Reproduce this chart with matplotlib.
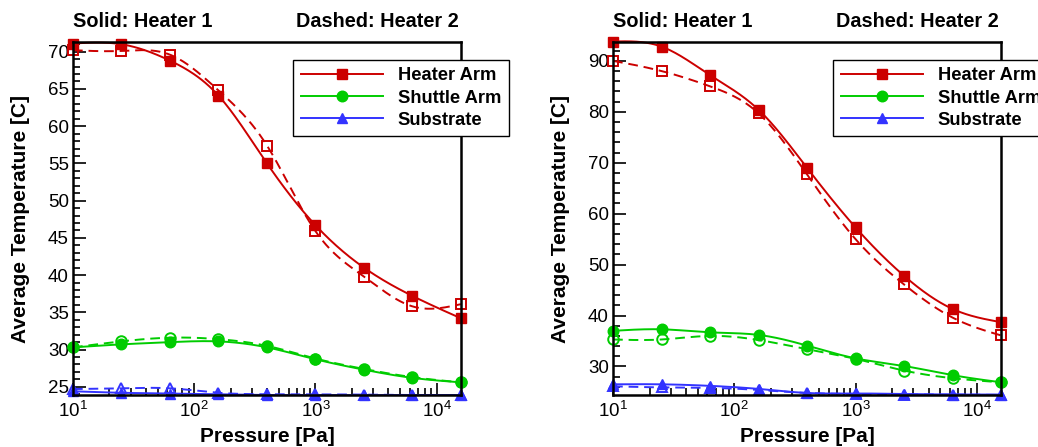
import numpy as np
import matplotlib
matplotlib.use("Agg")
import matplotlib.pyplot as plt
from matplotlib.ticker import MultipleLocator, LogLocator, LogFormatterSciNotation

plt.rcParams['font.family'] = ['Liberation Sans', 'DejaVu Sans']
plt.rcParams['mathtext.fontset'] = 'custom'
plt.rcParams['mathtext.rm'] = 'Liberation Sans'
plt.rcParams['mathtext.it'] = 'Liberation Sans'

# pressure points [Pa]
pressure = [10, 25.1, 63.1, 158.5, 398, 1000, 2512, 6310, 15849]

# left panel
h1_heater_L = [71.1, 71.0, 68.8, 64.1, 55.0, 46.7, 41.0, 37.2, 34.2]
h2_heater_L = [70.2, 70.1, 69.6, 64.8, 57.4, 45.9, 39.8, 35.8, 36.1]
h1_shuttle_L = [30.3, 30.7, 31.0, 31.1, 30.3, 28.7, 27.3, 26.2, 25.6]
h2_shuttle_L = [30.3, 31.1, 31.6, 31.4, 30.5, 28.8, 27.4, 26.3, 25.6]
h1_sub_L = [24.4, 24.2, 24.1, 24.0, 23.9, 23.9, 23.9, 23.9, 23.9]
h2_sub_L = [24.7, 24.8, 24.8, 24.2, 24.0, 24.0, 23.95, 23.9, 23.9]

# right panel
h1_heater_R = [93.8, 92.8, 87.2, 80.4, 69.0, 57.3, 47.8, 41.3, 38.7]
h2_heater_R = [90.0, 88.0, 85.0, 79.7, 67.7, 55.0, 46.1, 39.6, 36.1]
h1_shuttle_R = [37.0, 37.3, 36.7, 36.2, 34.1, 31.6, 30.1, 28.3, 26.9]
h2_shuttle_R = [35.3, 35.3, 36.0, 35.2, 33.4, 31.5, 29.2, 27.7, 26.9]
h1_sub_R = [26.5, 26.5, 26.2, 25.6, 24.8, 24.7, 24.6, 24.5, 24.5]
h2_sub_R = [26.1, 25.9, 25.8, 25.4, 24.8, 24.6, 24.5, 24.5, 24.4]

RED = '#cc0000'
GREEN = '#00cc00'
BLUE = '#3333ff'


def spline(x, y, n=300):
    # natural cubic spline in log10(x), just for drawing a smooth line
    t = np.log10(x)
    y = np.asarray(y, float)
    k = len(t)
    h = np.diff(t)
    A = np.zeros((k, k))
    b = np.zeros(k)
    A[0, 0] = A[-1, -1] = 1
    for i in range(1, k - 1):
        A[i, i - 1] = h[i - 1]
        A[i, i] = 2 * (h[i - 1] + h[i])
        A[i, i + 1] = h[i]
        b[i] = 6 * ((y[i + 1] - y[i]) / h[i] - (y[i] - y[i - 1]) / h[i - 1])
    M = np.linalg.solve(A, b)
    tt = np.linspace(t[0], t[-1], n)
    idx = np.clip(np.searchsorted(t, tt) - 1, 0, k - 2)
    t0, t1 = t[idx], t[idx + 1]
    hh = t1 - t0
    a = (t1 - tt) / hh
    c = (tt - t0) / hh
    yy = (a * y[idx] + c * y[idx + 1]
          + ((a ** 3 - a) * M[idx] + (c ** 3 - c) * M[idx + 1]) * hh ** 2 / 6)
    return 10 ** tt, yy


def draw(ax, series, ylim, major, minor):
    for y1, y2, col, mk, ms, lab in series:
        xs, ys = spline(pressure, y1)
        ax.plot(xs, ys, color=col, lw=1.4, clip_on=False)
        ax.plot(pressure, y1, ls='none', marker=mk, ms=ms, color=col, clip_on=False)
        xs, ys = spline(pressure, y2)
        ax.plot(xs, ys, color=col, lw=1.4, ls=(0, (5, 3)), clip_on=False)
        ax.plot(pressure, y2, ls='none', marker=mk, ms=ms, mfc='none', mec=col,
                mew=1.4, clip_on=False)
        ax.plot([], [], color=col, lw=1.4, marker=mk, ms=ms, label=lab)
    ax.set_xscale('log')
    ax.set_xlim(10, 15849)
    ax.set_ylim(*ylim)
    ax.yaxis.set_major_locator(MultipleLocator(major))
    ax.yaxis.set_minor_locator(MultipleLocator(minor))
    ax.xaxis.set_major_locator(LogLocator(base=10))
    ax.xaxis.set_major_formatter(LogFormatterSciNotation())
    ax.xaxis.set_minor_locator(LogLocator(base=10, subs=np.arange(2, 10)))
    ax.tick_params(which='both', direction='in', top=False, right=False,
                   labelsize=13.5, width=1.2)
    ax.tick_params(axis='y', which='major', length=9, pad=3)
    ax.tick_params(axis='y', which='minor', length=5)
    ax.tick_params(axis='x', which='major', length=9, pad=4)
    ax.tick_params(axis='x', which='minor', length=5)
    for s in ax.spines.values():
        s.set_linewidth(1.8)
    ax.set_xlabel('Pressure [Pa]', fontsize=15, fontweight='bold')
    ax.set_ylabel('Average Temperature [C]', fontsize=15, fontweight='bold')
    ax.xaxis.set_label_coords(0.5, -0.09)
    ax.yaxis.set_label_coords(-0.11, 0.5)
    ax.text(0.0, 1.057, 'Solid: Heater 1', transform=ax.transAxes, fontsize=14.3,
            fontweight='bold', ha='left', va='center')
    ax.text(0.993, 1.057, 'Dashed: Heater 2', transform=ax.transAxes, fontsize=14.3,
            fontweight='bold', ha='right', va='center')
    leg = ax.legend(loc='upper left', bbox_to_anchor=(0.567, 0.95),
                    fancybox=False, framealpha=1, edgecolor='black',
                    handlelength=4.5, handletextpad=0.8, borderaxespad=0,
                    borderpad=0.42, labelspacing=0.28,
                    prop={'size': 13.2, 'weight': 'bold'})
    leg.get_frame().set_linewidth(1.0)
    leg.set_zorder(5)


fig = plt.figure(figsize=(10.38, 4.47), dpi=100)
axL = fig.add_axes([0.0703, 0.1163, 0.3738, 0.7897])
axR = fig.add_axes([0.5906, 0.1163, 0.3738, 0.7897])

draw(axL, [(h1_heater_L, h2_heater_L, RED, 's', 6.8, 'Heater Arm'),
           (h1_shuttle_L, h2_shuttle_L, GREEN, 'o', 7.6, 'Shuttle Arm'),
           (h1_sub_L, h2_sub_L, BLUE, '^', 7.0, 'Substrate')],
     (23.9, 71.3), 5, 1)
draw(axR, [(h1_heater_R, h2_heater_R, RED, 's', 6.8, 'Heater Arm'),
           (h1_shuttle_R, h2_shuttle_R, GREEN, 'o', 7.6, 'Shuttle Arm'),
           (h1_sub_R, h2_sub_R, BLUE, '^', 7.0, 'Substrate')],
     (24.4, 93.7), 10, 2)

fig.savefig('out.png', dpi=100)
